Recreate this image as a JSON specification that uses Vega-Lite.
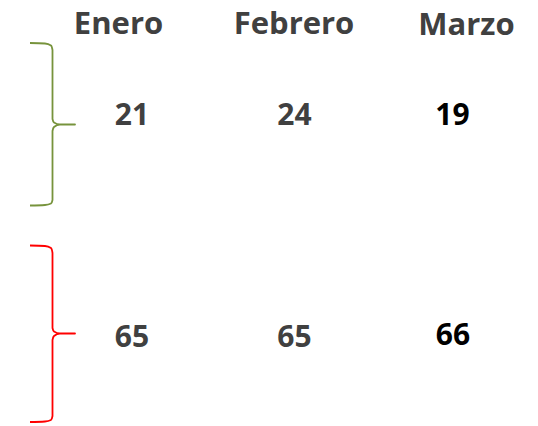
{
  "$schema": "https://vega.github.io/schema/vega-lite/v6.json",
  "width": 538,
  "height": 426,
  "autosize": {"type": "fit", "contains": "padding"},
  "padding": 0,
  "background": "white",
  "config": {"view": {"stroke": null}},
  "datasets": {
    "textos": [
      {"row": "header", "month": "Enero", "label": "Enero", "x": 118.5, "y": 33.5},
      {"row": "header", "month": "Febrero", "label": "Febrero", "x": 294, "y": 33.5},
      {"row": "header", "month": "Marzo", "label": "Marzo", "x": 466.5, "y": 34.5},
      {"row": "verde", "month": "Enero", "label": "21", "x": 132, "y": 125},
      {"row": "verde", "month": "Febrero", "label": "24", "x": 294.5, "y": 125},
      {"row": "verde", "month": "Marzo", "label": "19", "x": 452.5, "y": 125},
      {"row": "rojo", "month": "Enero", "label": "65", "x": 132, "y": 346.5},
      {"row": "rojo", "month": "Febrero", "label": "65", "x": 294.5, "y": 346.5},
      {"row": "rojo", "month": "Marzo", "label": "66", "x": 453, "y": 345}
    ],
    "llaves": [
      {"brace": "verde", "i": 1, "x": 30, "y": 43},
      {"brace": "verde", "i": 2, "x": 45, "y": 43.5},
      {"brace": "verde", "i": 3, "x": 51, "y": 45.5},
      {"brace": "verde", "i": 4, "x": 52.5, "y": 50},
      {"brace": "verde", "i": 5, "x": 52.5, "y": 119},
      {"brace": "verde", "i": 6, "x": 54, "y": 122.5},
      {"brace": "verde", "i": 7, "x": 60, "y": 124.5},
      {"brace": "verde", "i": 8, "x": 75, "y": 124.5},
      {"brace": "verde", "i": 9, "x": 60, "y": 124.5},
      {"brace": "verde", "i": 10, "x": 54, "y": 127},
      {"brace": "verde", "i": 11, "x": 52.5, "y": 131},
      {"brace": "verde", "i": 12, "x": 52.5, "y": 200},
      {"brace": "verde", "i": 13, "x": 51, "y": 203.5},
      {"brace": "verde", "i": 14, "x": 45, "y": 205},
      {"brace": "verde", "i": 15, "x": 30, "y": 205.5},
      {"brace": "rojo", "i": 1, "x": 30, "y": 245.5},
      {"brace": "rojo", "i": 2, "x": 45, "y": 246},
      {"brace": "rojo", "i": 3, "x": 51, "y": 248},
      {"brace": "rojo", "i": 4, "x": 52.5, "y": 253},
      {"brace": "rojo", "i": 5, "x": 52.5, "y": 328},
      {"brace": "rojo", "i": 6, "x": 54, "y": 331.5},
      {"brace": "rojo", "i": 7, "x": 60, "y": 333.5},
      {"brace": "rojo", "i": 8, "x": 75, "y": 333.5},
      {"brace": "rojo", "i": 9, "x": 60, "y": 333.5},
      {"brace": "rojo", "i": 10, "x": 54, "y": 336},
      {"brace": "rojo", "i": 11, "x": 52.5, "y": 340},
      {"brace": "rojo", "i": 12, "x": 52.5, "y": 416},
      {"brace": "rojo", "i": 13, "x": 51, "y": 420},
      {"brace": "rojo", "i": 14, "x": 45, "y": 421.5},
      {"brace": "rojo", "i": 15, "x": 30, "y": 422}
    ]
  },
  "layer": [
    {
      "data": {"name": "llaves"},
      "mark": {"type": "line", "strokeWidth": 1.8, "interpolate": "monotone", "strokeJoin": "round"},
      "encoding": {
        "x": {"field": "x", "type": "quantitative", "scale": {"domain": [0, 538]}, "axis": null},
        "y": {"field": "y", "type": "quantitative", "scale": {"domain": [426, 0]}, "axis": null},
        "order": {"field": "i", "type": "quantitative"},
        "detail": {"field": "brace"},
        "color": {"field": "brace", "type": "nominal", "legend": null, "scale": {"domain": ["verde", "rojo"], "range": ["#77933C", "#FF0000"]}}
      }
    },
    {
      "data": {"name": "textos"},
      "mark": {"type": "text", "font": "Open Sans", "fontWeight": "bold", "align": "center", "baseline": "alphabetic"},
      "encoding": {
        "x": {"field": "x", "type": "quantitative", "scale": {"domain": [0, 538]}, "axis": null},
        "y": {"field": "y", "type": "quantitative", "scale": {"domain": [426, 0]}, "axis": null},
        "text": {"field": "label"},
        "size": {"condition": {"test": "datum.row === 'header'", "value": 31}, "value": 30},
        "color": {"condition": {"test": "datum.month === 'Marzo' && datum.row !== 'header'", "value": "#000000"}, "value": "#404040"}
      }
    }
  ]
}
